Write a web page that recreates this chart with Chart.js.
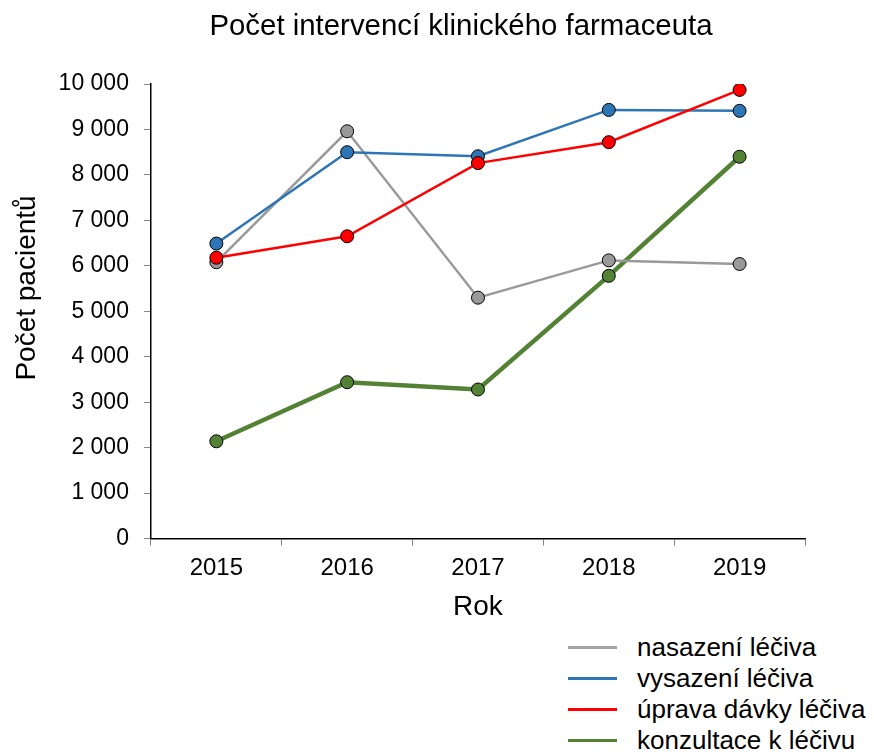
<!DOCTYPE html>
<html>
<head>
<meta charset="utf-8">
<script src="https://cdn.jsdelivr.net/npm/chart.js@4"></script>
<style>
  body { margin: 0; background: #fff; font-family: "Liberation Sans", Arial, sans-serif; }
  #wrap { position: relative; width: 874px; height: 756px; }
  #title { position: absolute; top: 8px; left: 0; width: 922px; text-align: center; font-size: 29.4px; line-height: 34px; color: #000; }
  #chartBox { position: absolute; left: 0; top: 0; width: 874px; height: 628px; }
  #legend { position: absolute; left: 568px; top: 632px; font-size: 26px; color: #000; }
  .item { display: flex; align-items: center; height: 31px; }
  .swatch { width: 49px; height: 3.5px; margin-right: 20px; }
</style>
</head>
<body>
<div id="wrap">
  <div id="chartBox"><canvas id="lineChart"></canvas></div>
  <div id="title">Počet intervencí klinického farmaceuta</div>
  <div id="legend"></div>
</div>
<script>
const years = ['2015', '2016', '2017', '2018', '2019'];

const nasazeni = [6080, 8960, 5300, 6120, 6040];
const vysazeni = [6490, 8500, 8410, 9430, 9410];
const uprava = [6180, 6650, 8260, 8720, 9870];
const konzultace = [2140, 3440, 3280, 5780, 8400];

const seriesNames = ['nasazení léčiva', 'vysazení léčiva', 'úprava dávky léčiva', 'konzultace k léčivu'];
const seriesColors = ['#999999', '#2e75b6', '#ff0000', '#548235'];
const legendColors = ['#a5a5a5', '#2e75b6', '#ff0000', '#548235'];
const lineWidths = [2.5, 2.5, 2.5, 4.5];

const yTicks = [0, 1000, 2000, 3000, 4000, 5000, 6000, 7000, 8000, 9000, 10000];

function makeSet(i, values) {
  return {
    label: seriesNames[i],
    data: values,
    borderColor: seriesColors[i],
    backgroundColor: seriesColors[i],
    borderWidth: lineWidths[i],
    pointRadius: 6.5,
    pointHoverRadius: 6.5,
    pointBorderColor: '#000',
    pointBorderWidth: 1,
    pointBackgroundColor: seriesColors[i],
    tension: 0
  };
}

// Chart.js draws the first dataset on top, so the top layer goes first
const chartData = {
  labels: years,
  datasets: [
    makeSet(2, uprava),
    makeSet(1, vysazeni),
    makeSet(0, nasazeni),
    makeSet(3, konzultace)
  ]
};

const fmt = v => String(v).replace(/\B(?=(\d{3})+(?!\d))/g, ' ');

// leading no-break spaces nudge the rotated y title a bit upward, as in the original
const yTitle = '\u00a0\u00a0\u00a0\u00a0\u00a0\u00a0Počet pacientů';

const config = {
  type: 'line',
  data: chartData,
  options: {
    responsive: true,
    maintainAspectRatio: false,
    animation: false,
    layout: { padding: { left: 0, right: 69, top: 84, bottom: 0 } },
    plugins: {
      legend: { display: false },
      tooltip: { enabled: false }
    },
    scales: {
      x: {
        offset: true,
        grid: { offset: true, drawOnChartArea: false, drawTicks: true, tickLength: 7, color: '#868686' },
        border: { color: '#000', width: 1.5 },
        ticks: { color: '#000', font: { family: 'Liberation Sans', size: 24 }, padding: 8 },
        title: { display: true, text: 'Rok', color: '#000', font: { family: 'Liberation Sans', size: 28 }, padding: { top: 0, bottom: 4 } }
      },
      y: {
        min: 0,
        max: 10000,
        afterBuildTicks: axis => { axis.ticks = yTicks.map(v => ({ value: v })); },
        grid: { drawOnChartArea: false, drawTicks: true, tickLength: 7, color: '#868686' },
        border: { color: '#000', width: 1.5 },
        ticks: { color: '#000', font: { family: 'Liberation Sans', size: 23 }, padding: 15, callback: v => fmt(v) },
        title: { display: true, text: yTitle, color: '#000', font: { family: 'Liberation Sans', size: 28 }, padding: { top: 10, bottom: 0 } }
      }
    }
  }
};

const lineChart = new Chart(document.getElementById('lineChart'), config);

const legendEl = document.getElementById('legend');
seriesNames.forEach((name, i) => {
  const row = document.createElement('div');
  row.className = 'item';
  row.innerHTML = '<span class="swatch" style="background:' + legendColors[i] + '"></span><span>' + name + '</span>';
  legendEl.appendChild(row);
});
</script>
</body>
</html>
